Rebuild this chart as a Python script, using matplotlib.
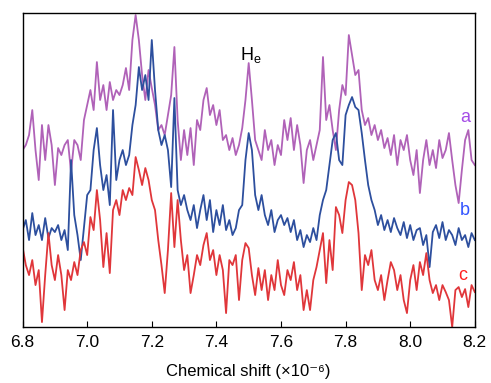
import numpy as np
import matplotlib
matplotlib.use("Agg")
import matplotlib.pyplot as plt

# ---------- DATA (intensity in arbitrary units) ----------
shift = np.round(np.arange(6.80, 8.2001, 0.01), 2)

trace_a = [177, 182, 192, 217, 177, 147, 202, 167, 202, 182, 142, 179, 172, 182, 187, 155, 187, 182, 167, 207,
           222, 237, 217, 265, 227, 242, 217, 245, 227, 237, 232, 242, 259, 237, 287, 312, 287, 252, 227, 257,
           239, 222, 197, 202, 192, 212, 232, 280, 207, 167, 197, 172, 199, 162, 207, 197, 227, 239, 212, 222,
           202, 217, 187, 192, 177, 189, 172, 182, 199, 227, 264, 227, 187, 177, 167, 197, 177, 187, 162, 182,
           172, 207, 187, 209, 177, 202, 182, 144, 177, 187, 167, 182, 197, 270, 207, 222, 197, 177, 217, 242,
           232, 292, 272, 252, 257, 217, 202, 209, 192, 202, 187, 197, 179, 189, 172, 192, 162, 187, 177, 192,
           167, 152, 177, 134, 167, 187, 162, 177, 159, 187, 169, 177, 194, 167, 142, 124, 157, 187, 197, 167,
           162]

trace_b = [97, 107, 87, 114, 92, 102, 87, 109, 89, 99, 95, 102, 87, 97, 77, 167, 112, 92, 67, 100,
           132, 137, 177, 199, 162, 137, 152, 122, 217, 147, 167, 177, 162, 172, 202, 222, 260, 237, 252, 227,
           287, 237, 197, 182, 192, 177, 140, 229, 137, 122, 132, 117, 107, 122, 99, 117, 132, 107, 127, 95,
           117, 102, 122, 97, 107, 92, 99, 117, 122, 167, 194, 177, 132, 117, 132, 112, 102, 117, 95, 107,
           112, 102, 109, 95, 107, 87, 97, 80, 92, 85, 99, 87, 112, 127, 137, 162, 187, 194, 167, 162,
           212, 222, 230, 220, 217, 194, 167, 142, 127, 117, 102, 112, 97, 107, 95, 109, 99, 92, 105, 89,
           102, 87, 97, 99, 82, 92, 60, 95, 102, 89, 105, 87, 97, 92, 82, 99, 87, 92, 80, 94,
           87]

trace_c = [80, 62, 52, 67, 42, 57, 5, 52, 94, 62, 47, 72, 52, 17, 57, 47, 65, 52, 77, 85,
           72, 110, 97, 137, 107, 60, 94, 54, 117, 127, 112, 137, 127, 139, 132, 170, 157, 142, 159, 147,
           127, 117, 87, 62, 34, 77, 134, 80, 127, 87, 57, 72, 34, 52, 72, 62, 82, 94, 67, 77,
           52, 72, 57, 14, 67, 62, 72, 27, 67, 84, 79, 52, 32, 59, 37, 57, 27, 52, 37, 67,
           42, 32, 57, 47, 65, 37, 52, 17, 37, 17, 47, 60, 77, 94, 44, 87, 57, 120, 112, 94,
           127, 145, 142, 127, 94, 37, 72, 62, 77, 47, 37, 52, 27, 47, 65, 57, 37, 52, 27, 14,
           47, 62, 37, 65, 52, 74, 47, 34, 42, 27, 42, 35, 27, 0, 37, 40, 30, 38, 20, 42,
           35]

x_ticks = [6.8, 7.0, 7.2, 7.4, 7.6, 7.8, 8.0, 8.2]
labels = ["a", "b", "c"]

# ---------- PLOT ----------
plt.rcParams["font.family"] = ["Liberation Sans", "DejaVu Sans"]

fig = plt.figure(figsize=(4.91, 3.83), dpi=100)
ax = fig.add_axes([0.046, 0.146, 0.921, 0.820])

ax.plot(shift, trace_a, color="#b062b8", linewidth=1.3)
ax.plot(shift, trace_b, color="#2d4f9e", linewidth=1.3)
ax.plot(shift, trace_c, color="#e0363a", linewidth=1.3)

ax.text(8.169, 210, labels[0], color="#a54ce6", fontsize=13, ha="center", va="center")
ax.text(8.169, 117, labels[1], color="#3355ff", fontsize=13, ha="center", va="center")
ax.text(8.163, 52, labels[2], color="#ff2020", fontsize=13, ha="center", va="center")
ax.text(7.505, 272, "H$_\\mathregular{e}$", color="black", fontsize=13, ha="center", va="center")

ax.set_xlim(6.8, 8.2)
ax.set_ylim(0, 314)
ax.set_xticks(x_ticks)
ax.set_xticklabels([f"{t:.1f}" for t in x_ticks])
ax.set_yticks([])
ax.tick_params(axis="x", direction="in", length=4, labelsize=12.5, pad=6)
ax.set_xlabel("Chemical shift (×10⁻⁶)", fontsize=12, labelpad=10)
for s in ax.spines.values():
    s.set_linewidth(1.0)

fig.savefig("out.png", dpi=100)
